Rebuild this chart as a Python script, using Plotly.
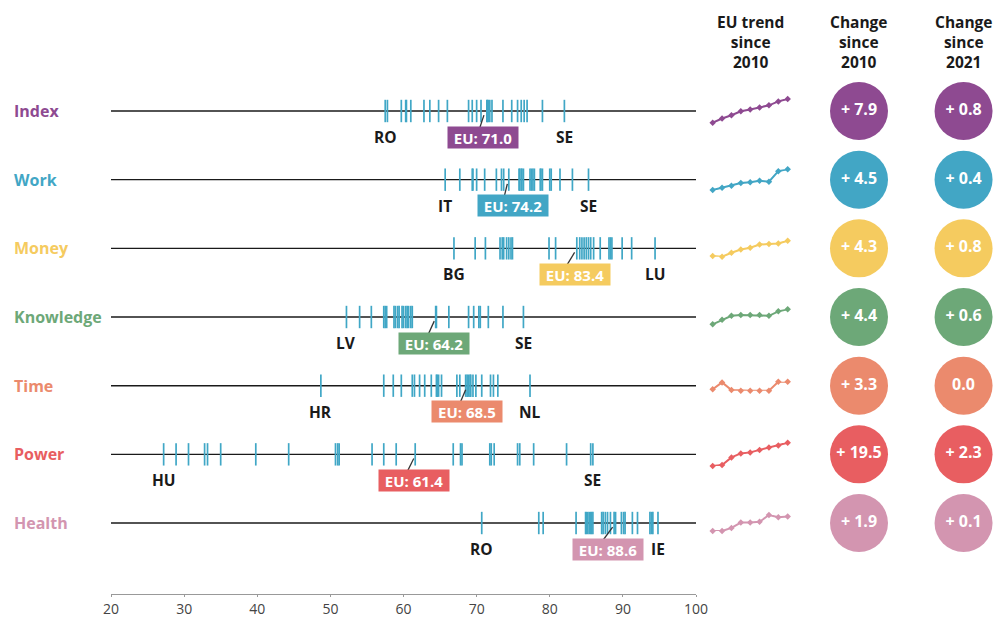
import plotly.graph_objects as go

# ---------------- data ----------------
domains = ["Index", "Work", "Money", "Knowledge", "Time", "Power", "Health"]
colors = ["#8E4A91", "#42A6C5", "#F5CB5F", "#6DA878", "#EB8A6D", "#E85E61", "#D395B0"]

index_scores = [57.5, 57.8, 59.7, 60.3, 60.4, 61.0, 62.8, 63.6, 64.8, 66.0, 68.9, 69.4, 70.0, 70.6,
                71.4, 71.5, 71.6, 71.8, 72.1, 73.6, 74.8, 75.6, 76.1, 76.5, 76.9, 79.0, 82.0]
work_scores = [65.7, 67.7, 69.4, 69.5, 70.0, 71.1, 72.7, 73.4, 73.7, 74.4, 75.8, 75.9, 76.1, 76.2,
               76.4, 77.3, 77.5, 77.7, 77.9, 78.7, 78.8, 79.0, 80.0, 80.2, 81.4, 83.1, 85.3]
money_scores = [66.9, 69.8, 71.2, 73.2, 73.5, 73.7, 74.1, 74.4, 74.7, 74.9, 79.9, 80.8, 83.7, 84.1,
                84.4, 84.7, 85.0, 85.3, 85.6, 86.0, 86.9, 88.1, 88.3, 88.5, 89.9, 91.2, 94.4]
knowledge_scores = [52.2, 54.0, 55.6, 57.3, 57.5, 57.7, 58.7, 58.9, 59.2, 59.4, 59.8, 60.0, 60.3, 60.5,
                    60.7, 61.0, 61.2, 64.4, 64.5, 66.2, 68.9, 69.6, 70.3, 70.5, 71.6, 73.6, 76.4]
time_scores = [48.7, 57.3, 58.6, 59.7, 61.2, 61.5, 62.2, 62.9, 63.8, 64.5, 64.6, 64.8, 65.2, 67.3,
               67.7, 68.5, 68.7, 68.9, 69.1, 69.2, 69.5, 69.9, 70.7, 71.9, 72.3, 72.9, 77.3]
power_scores = [27.2, 28.9, 30.6, 32.8, 33.2, 35.0, 39.8, 44.3, 50.7, 51.0, 51.2, 55.7, 57.3, 59.0,
                61.6, 66.8, 67.8, 68.0, 71.8, 72.0, 72.4, 75.6, 75.9, 77.8, 82.3, 85.6, 85.9]
health_scores = [70.7, 78.5, 79.1, 83.6, 84.9, 85.0, 85.2, 85.4, 85.6, 85.7, 85.9, 87.1, 87.3, 87.6,
                 87.9, 88.3, 88.8, 89.0, 89.8, 90.1, 90.3, 91.3, 92.0, 93.7, 93.9, 94.1, 94.8]
country_scores = [index_scores, work_scores, money_scores, knowledge_scores,
                  time_scores, power_scores, health_scores]

min_country = ["RO", "IT", "BG", "LV", "HR", "HU", "RO"]
max_country = ["SE", "SE", "LU", "SE", "NL", "SE", "IE"]
eu_scores = [71.0, 74.2, 83.4, 64.2, 68.5, 61.4, 88.6]

trend_index = [63.1, 64.5, 65.6, 66.9, 67.5, 68.2, 68.9, 70.2, 71.0]
trend_work = [69.7, 70.2, 70.6, 71.2, 71.4, 71.7, 71.5, 73.8, 74.2]
trend_money = [79.1, 78.9, 80.0, 80.9, 81.4, 82.3, 82.5, 82.6, 83.4]
trend_knowledge = [59.8, 61.1, 62.3, 62.5, 62.5, 62.5, 62.3, 63.6, 64.2]
trend_time = [65.2, 68.2, 64.9, 64.6, 64.6, 64.6, 64.6, 68.5, 68.5]
trend_power = [41.9, 42.7, 49.1, 52.4, 53.3, 55.2, 57.4, 59.1, 61.4]
trend_health = [86.7, 86.7, 87.1, 87.8, 87.8, 87.9, 88.8, 88.5, 88.6]
trends = [trend_index, trend_work, trend_money, trend_knowledge, trend_time, trend_power, trend_health]

change_2010 = [7.9, 4.5, 4.3, 4.4, 3.3, 19.5, 1.9]
change_2021 = [0.8, 0.4, 0.8, 0.6, 0.0, 2.3, 0.1]
change_cols = ["Change<br>since<br>2010", "Change<br>since<br>2021"]
x_ticks = [20, 30, 40, 50, 60, 70, 80, 90, 100]

# ---------------- layout helpers ----------------
W, H = 997, 617
FONT = "Open Sans"
row_px0, row_step = 111.0, 68.67   # pixel of first row, spacing
y_bottom_px = 594.0
y_range = [(y_bottom_px - row_px0) / row_step, (0 - row_px0) / row_step]

# sparkline pixel extents (y of min, y of max) per row
spark_px = [(122.7, 99.0), (190.0, 169.3), (256.7, 240.7), (324.3, 309.3),
            (390.7, 381.7), (466.0, 442.7), (531.0, 515.0)]
eu_xshift = [-1, 6, 0, 0, 1, 0, -5]
leader_dx = [0.8, 0.6, 1.5, 1.1, 1.05, 1.2, 1.8]

fig = go.Figure()
rows = list(range(len(domains)))

for i, d in enumerate(domains):
    fig.add_trace(go.Scatter(x=[x_ticks[0], x_ticks[-1]], y=[i, i], mode="lines",
                             line=dict(color="#1a1a1a", width=1.4), hoverinfo="skip",
                             showlegend=False))
    fig.add_trace(go.Scatter(x=country_scores[i], y=[i] * len(country_scores[i]), mode="markers",
                             marker=dict(symbol="line-ns", size=16,
                                         line=dict(color="#40A7C6", width=1.7)),
                             showlegend=False, hoverinfo="x"))

for i in rows:
    vals = country_scores[i]
    fig.add_annotation(x=min(vals), y=i + 0.38, text="<b>%s</b>" % min_country[i], showarrow=False,
                       font=dict(family=FONT, size=15.5, color="#1a1a1a"))
    fig.add_annotation(x=max(vals), y=i + 0.38, text="<b>%s</b>" % max_country[i], showarrow=False,
                       font=dict(family=FONT, size=15.5, color="#1a1a1a"))
    fig.add_shape(type="line", xref="x", yref="y", x0=eu_scores[i], y0=i + 0.06,
                  x1=eu_scores[i] - leader_dx[i], y1=i + 0.32,
                  line=dict(color="#333333", width=1.3))
    fig.add_annotation(x=eu_scores[i], y=i + 0.38, xshift=eu_xshift[i],
                       text="<b>EU: %.1f</b>" % eu_scores[i], showarrow=False,
                       font=dict(family=FONT, size=15, color="white"),
                       bgcolor=colors[i], borderpad=2, width=66, height=17)
    fig.add_annotation(xref="paper", yref="y", x=12 / W, y=i, xanchor="left",
                       text="<b>%s</b>" % domains[i], showarrow=False,
                       font=dict(family=FONT, size=16, color=colors[i]))

# sparklines
for i in rows:
    k = i + 2
    t = trends[i]
    fig.add_trace(go.Scatter(x=list(range(len(t))), y=t, mode="lines+markers",
                             line=dict(color=colors[i], width=2),
                             marker=dict(color=colors[i], size=5, symbol="diamond"),
                             cliponaxis=False, showlegend=False,
                             xaxis="x%d" % k, yaxis="y%d" % k))
    pmin, pmax = spark_px[i]
    fig.layout["xaxis%d" % k] = dict(domain=[712.7 / W, 787.7 / W], range=[0, len(t) - 1],
                                     visible=False, anchor="y%d" % k, fixedrange=True)
    fig.layout["yaxis%d" % k] = dict(domain=[1 - pmin / H, 1 - pmax / H], range=[min(t), max(t)],
                                     visible=False, anchor="x%d" % k, fixedrange=True)

def fmt(v):
    return "+ %.1f" % v if v > 0 else "%.1f" % v

for j, ch in enumerate([change_2010, change_2021]):
    fig.add_trace(go.Scatter(x=[j] * len(ch), y=rows, mode="markers+text",
                             text=[fmt(v) for v in ch], textposition="middle center",
                             textfont=dict(family=FONT, size=16, color="white", weight="bold"),
                             marker=dict(size=58, color=colors, line=dict(width=0)),
                             cliponaxis=False, showlegend=False, xaxis="x9", yaxis="y"))
    fig.add_annotation(xref="x9", yref="paper", x=j, y=1 - 9 / H, xanchor="center", yanchor="top",
                       text="<b>%s</b>" % change_cols[j], showarrow=False,
                       font=dict(family=FONT, size=15.5, color="#1a1a1a"))

fig.add_annotation(xref="paper", yref="paper", x=750 / W, y=1 - 9 / H, xanchor="center",
                   yanchor="top", text="<b>EU trend<br>since<br>2010</b>", showarrow=False,
                   font=dict(family=FONT, size=15.5, color="#1a1a1a"))

fig.update_layout(
    width=W, height=H, margin=dict(l=0, r=0, t=0, b=0, autoexpand=False),
    paper_bgcolor="white", plot_bgcolor="white",
    xaxis=dict(domain=[111 / W, 696 / W], range=[20, 100], tickvals=x_ticks,
               showgrid=False, zeroline=False, showline=True, linecolor="#999999", linewidth=1,
               ticks="outside", ticklen=2, tickcolor="#999999", automargin=False,
               tickfont=dict(family=FONT, size=14, color="#444444"), anchor="y", fixedrange=True),
    yaxis=dict(domain=[1 - y_bottom_px / H, 1], range=y_range, visible=False, fixedrange=True,
               automargin=False),
    xaxis9=dict(domain=[806 / W, 1], range=[-0.507, 1.32], visible=False, anchor="y",
                fixedrange=True),
    font=dict(family=FONT),
)

fig.write_html("out.html", config={"displayModeBar": False},
               post_script="document.body.style.margin='0px';"
                           "document.body.style.overflow='hidden';")
